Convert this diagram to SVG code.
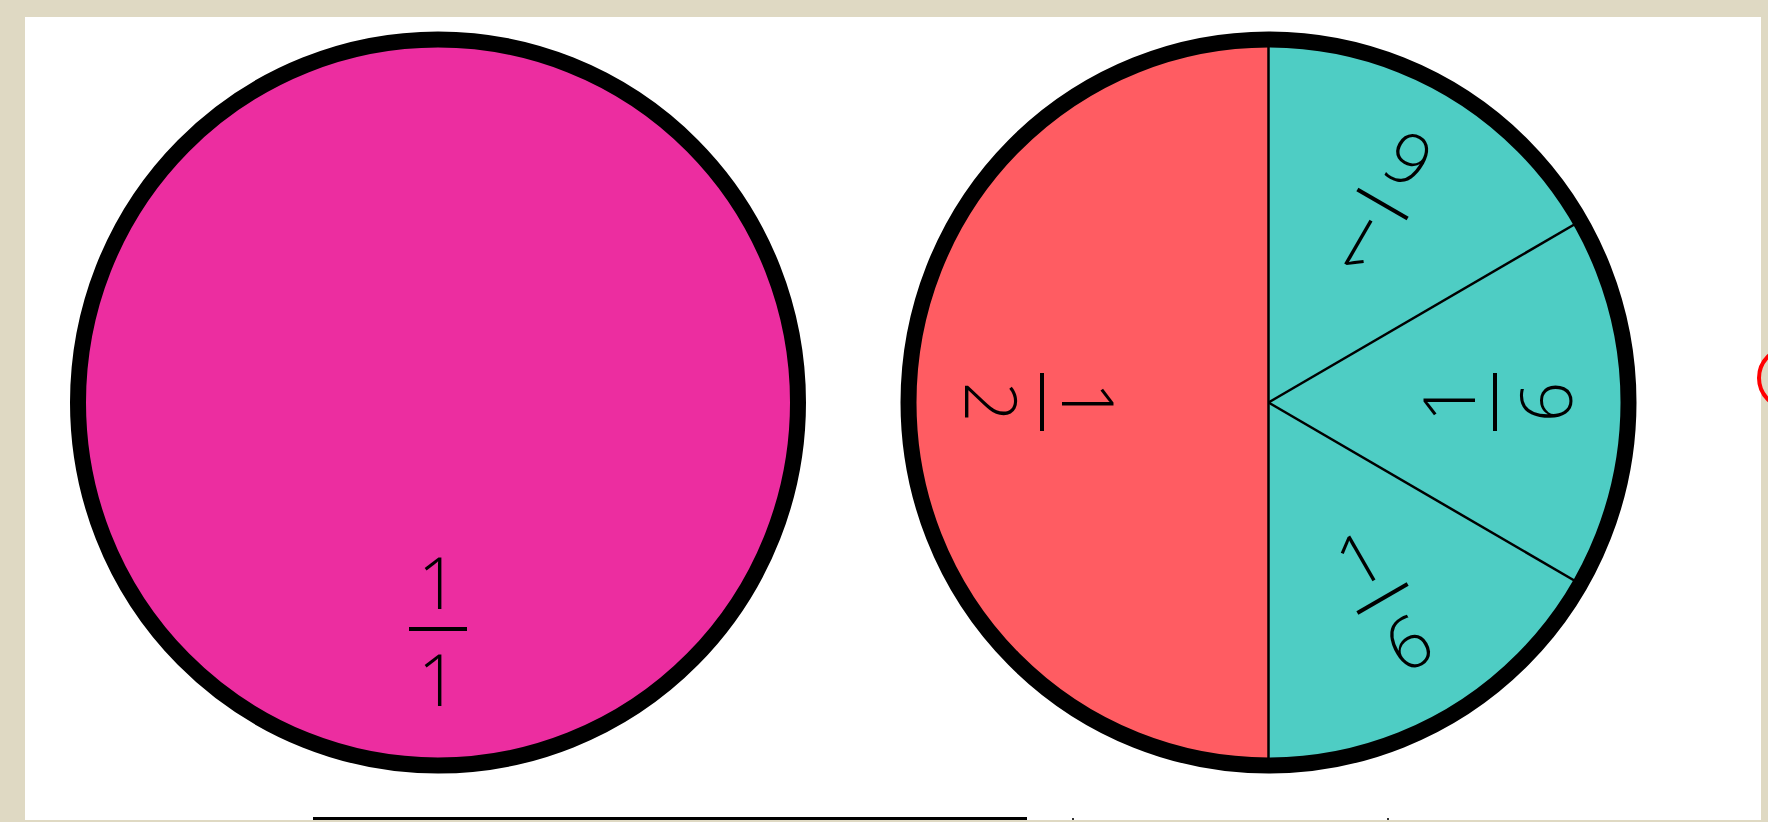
<svg xmlns="http://www.w3.org/2000/svg" width="1768" height="822" viewBox="0 0 1768 822">
  <style>
    .num { font-family: "Open Sans", "DejaVu Sans", sans-serif; font-size: 71px; font-weight: 300; fill: #000; text-anchor: middle; }
    .outline { fill: none; stroke: #000; stroke-width: 16; }
    .div { stroke: #000; stroke-width: 2.5; fill: none; }
  </style>
  <defs>
    <g id="frac16">
      <text class="num" x="0" y="-20">1</text>
      <rect x="-29" y="-2" width="58" height="4" fill="#000"/>
      <text class="num" x="0" y="77">6</text>
    </g>
  </defs>
  <rect x="0" y="0" width="1768" height="822" fill="#DFD9C3"/>
  <rect x="25" y="17" width="1736" height="803" fill="#FFFFFF"/>

  <g id="whole-circle">
    <ellipse cx="438" cy="402.5" rx="360" ry="363" fill="#EC2DA0"/>
    <ellipse class="outline" cx="438" cy="402.5" rx="360" ry="363"/>
    <g transform="translate(438,629)">
      <text class="num" x="0" y="-20">1</text>
      <rect x="-29" y="-2" width="58" height="4" fill="#000"/>
      <text class="num" x="0" y="77">1</text>
    </g>
  </g>

  <g id="split-circle">
    <ellipse cx="1268.5" cy="402.5" rx="360" ry="363" fill="#4ECDC4"/>
    <path d="M1268.5,39.5 A360,363 0 0,0 1268.5,765.5 Z" fill="#FF5C62"/>
    <g id="connectors">
      <line class="div" x1="1268.5" y1="39.5" x2="1268.5" y2="765.5" stroke-width="3"/>
      <line class="div" x1="1268.5" y1="402.5" x2="1580.3" y2="221"/>
      <line class="div" x1="1268.5" y1="402.5" x2="1580.3" y2="584"/>
    </g>
    <ellipse class="outline" cx="1268.5" cy="402.5" rx="360" ry="363"/>
    <g id="half" transform="translate(1042,402) rotate(90)">
      <text class="num" x="0" y="-20">1</text>
      <rect x="-29" y="-2" width="58" height="4" fill="#000"/>
      <text class="num" x="0" y="77">2</text>
    </g>
    <use id="sixth-top" href="#frac16" transform="translate(1382.5,204) rotate(210)"/>
    <use id="sixth-right" href="#frac16" transform="translate(1495,402) rotate(-90)"/>
    <use id="sixth-bottom" href="#frac16" transform="translate(1382.5,598.5) rotate(-30)"/>
  </g>

  <g id="bottom-marks">
    <rect x="313" y="817" width="714" height="3" fill="#000"/>
    <rect x="1072" y="818" width="2" height="2" fill="#333"/>
    <rect x="1387" y="818" width="2" height="2" fill="#333"/>
  </g>

  <rect x="1761" y="0" width="7" height="822" fill="#DFD9C3"/>
  <rect x="0" y="820" width="1768" height="2" fill="#DFD9C3"/>

  <g id="marker-circle">
    <circle cx="1789" cy="378" r="30" fill="none" stroke="#FF0000" stroke-width="4"/>
  </g>
</svg>
